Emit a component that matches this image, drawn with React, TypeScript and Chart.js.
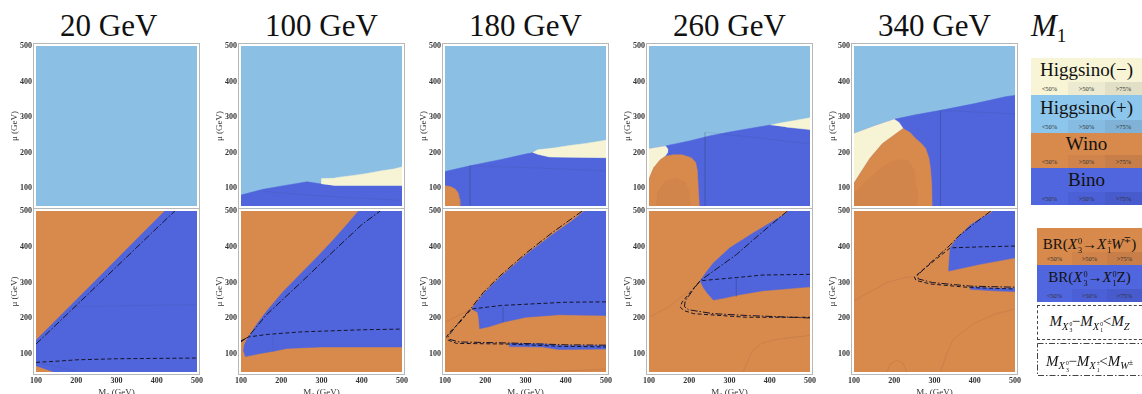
import React, { useEffect, useRef } from 'react';
import { Chart, registerables } from 'chart.js';

Chart.register(...registerables);

type P = [number, number];

// ---------- labels ----------
const massLabels = ['20 GeV', '100 GeV', '180 GeV', '260 GeV', '340 GeV'];
const tickValues = [100, 200, 300, 400, 500];
const legendBands = ['Higgsino(\u2212)', 'Higgsino(+)', 'Wino', 'Bino'];
const shareLabels = ['<50%', '>50%', '>75%'];

// ---------- data (M2, mu) in GeV ----------
const fullDomain: P[] = [[100, 50], [100, 500], [500, 500], [500, 50], [100, 50]];

// top row: lightest-neutralino composition
const t100Bino: P[] = [[100, 50], [100, 81], [155, 97], [210, 108], [264, 118], [300, 112], [330, 108], [500, 108], [500, 50]];
const t100HiggsMinus: P[] = [[300, 112], [300, 127], [330, 128], [345, 131], [380, 136], [410, 141], [450, 149], [480, 154], [500, 160], [500, 108], [330, 108]];
const t100Contour: P[] = [[156, 91], [300, 78], [496, 66]];

const t180Bino: P[] = [[100, 50], [100, 147], [162, 163], [240, 181], [300, 196], [318, 200], [328, 196], [360, 188], [500, 186], [500, 50]];
const t180HiggsMinus: P[] = [[318, 200], [330, 208], [370, 213], [410, 220], [450, 226], [500, 235], [500, 186], [360, 188], [328, 196]];
const t180Wino: P[] = [[100, 50], [100, 107], [115, 104], [126, 97], [133, 86], [136, 70], [137, 50]];
const t180Contour1: P[] = [[162, 163], [162, 50]];
const t180Contour2: P[] = [[162, 163], [330, 157], [500, 149]];

const t260Bino: P[] = [[100, 50], [100, 211], [141, 219], [200, 233], [250, 247], [300, 258], [350, 268], [402, 278], [440, 272], [500, 265], [500, 50]];
const t260HiggsMinusR: P[] = [[402, 278], [430, 284], [460, 290], [500, 298], [500, 265], [440, 272]];
const t260HiggsMinusL: P[] = [[100, 126], [100, 211], [141, 219], [147, 210], [146, 200], [140, 190], [128, 180], [112, 158]];
const t260Wino: P[] = [[100, 50], [100, 126], [112, 158], [128, 180], [141, 190], [160, 194], [182, 194], [205, 186], [216, 172], [220, 150], [222, 110], [225, 50]];
const t260WinoInner: P[] = [[118, 50], [122, 90], [140, 120], [165, 128], [190, 118], [200, 90], [203, 50]];
const t260Contour1: P[] = [[239, 258], [239, 50]];
const t260Contour2: P[] = [[239, 258], [500, 225]];

const t340Bino: P[] = [[100, 50], [100, 254], [150, 275], [200, 294], [250, 306], [315, 319], [400, 338], [479, 358], [500, 361], [500, 50]];
const t340HiggsMinus: P[] = [[100, 114], [100, 254], [150, 275], [200, 294], [212, 285], [222, 268], [200, 250], [171, 226], [140, 185], [120, 150]];
const t340Wino: P[] = [[100, 50], [100, 114], [120, 150], [140, 185], [171, 226], [200, 250], [222, 268], [240, 256], [253, 240], [268, 225], [278, 212], [286, 185], [290, 156], [293, 110], [294, 50]];
const t340WinoInner: P[] = [[100, 50], [100, 85], [130, 120], [170, 160], [205, 180], [235, 178], [250, 150], [255, 100], [256, 50]];
const t340Contour1: P[] = [[315, 319], [315, 50]];
const t340Contour2: P[] = [[315, 319], [500, 309]];

// bottom row: X3 decay branching ratios and thresholds
const b20Bino: P[] = [[100, 67], [100, 139], [180, 229], [260, 319], [340, 410], [420, 500], [500, 500], [500, 50], [143, 50]];
const b20Contour1: P[] = [[198, 232], [350, 236], [500, 238]];
const b20Contour2: P[] = [[100, 77], [200, 53]];
const b20W: P[] = [[100, 128], [200, 236], [300, 344], [400, 452], [445, 500]];
const b20Z: P[] = [[100, 77], [150, 80], [200, 84], [300, 87], [400, 88], [500, 89]];

const b100Bino: P[] = [[119, 148], [140, 185], [165, 222], [205, 275], [247, 323], [290, 372], [330, 420], [360, 458], [392, 500], [500, 500], [500, 120], [300, 120], [214, 116], [181, 108], [148, 102], [111, 93], [106, 110], [108, 125], [113, 138], [119, 148]];
const b100Contour: P[] = [[177, 150], [181, 108]];
const b100W: P[] = [[100, 134], [119, 150], [165, 212], [247, 298], [330, 388], [400, 462], [446, 500]];
const b100Z: P[] = [[100, 137], [119, 148], [165, 155], [247, 162], [400, 168], [500, 170]];

const b180Bino: P[] = [[166, 226], [195, 268], [236, 314], [301, 378], [367, 434], [415, 472], [446, 500], [500, 500], [500, 208], [383, 210], [301, 203], [244, 189], [211, 177], [186, 171], [184, 200], [181, 217], [166, 226]];
const b180Strip: P[] = [[260, 130], [342, 129], [383, 124], [500, 124], [500, 114], [383, 113], [342, 120], [260, 121], [260, 130]];
const b180Z: P[] = [[500, 246], [400, 245], [240, 236], [166, 226], [150, 207], [137, 189], [112, 162], [104, 148], [108, 139], [129, 130], [260, 128], [383, 122], [500, 120]];
const b180W: P[] = [[441, 500], [367, 440], [301, 382], [236, 318], [195, 272], [166, 230], [140, 196], [116, 162], [108, 150], [112, 141], [135, 134], [260, 131], [400, 126], [500, 125]];
const b180Contour1: P[] = [[100, 189], [140, 212], [166, 226]];
const b180Contour2: P[] = [[300, 50], [400, 53], [500, 58]];
const b180Contour3: P[] = [[244, 232], [244, 189]];

const b260Bino: P[] = [[227, 305], [243, 330], [260, 355], [301, 397], [358, 438], [407, 471], [440, 493], [446, 500], [500, 500], [500, 288], [383, 277], [325, 266], [293, 258], [260, 251], [245, 270], [235, 286], [227, 305]];
const b260Z: P[] = [[500, 323], [383, 321], [317, 314], [227, 305], [202, 272], [182, 245], [178, 231], [186, 222], [211, 213], [342, 203], [500, 203]];
const b260W: P[] = [[444, 500], [374, 434], [317, 378], [260, 332], [227, 305], [211, 282], [190, 249], [188, 233], [198, 224], [260, 213], [342, 208], [500, 201]];
const b260Contour1: P[] = [[100, 203], [150, 232], [178, 258], [210, 285], [227, 305]];
const b260Contour2: P[] = [[334, 50], [345, 80], [358, 111], [380, 130], [407, 139], [450, 146], [500, 152]];
const b260Contour3: P[] = [[317, 313], [317, 260]];

const b340Bino: P[] = [[339, 397], [356, 424], [389, 461], [422, 484], [438, 493], [445, 500], [500, 500], [500, 369], [413, 351], [335, 332], [337, 370], [339, 397]];
const b340Strip: P[] = [[389, 288], [446, 284], [500, 284], [500, 275], [446, 277], [389, 281], [389, 288]];
const b340Z: P[] = [[500, 402], [420, 400], [339, 397], [300, 362], [268, 332], [250, 316], [254, 306], [290, 296], [389, 286], [500, 282]];
const b340W: P[] = [[440, 500], [400, 466], [360, 430], [339, 405], [305, 370], [275, 340], [258, 320], [260, 310], [295, 300], [389, 290], [500, 287]];
const b340Contour1: P[] = [[100, 249], [182, 300], [230, 315], [250, 316]];
const b340Contour2: P[] = [[315, 50], [330, 100], [345, 139], [397, 185], [450, 212], [500, 226]];
const b340Bump: P[] = [[182, 50], [190, 72], [206, 83], [222, 75], [231, 50]];

// ---------- styles ----------
const HPLUS = '#8bbfe3';
const HMINUS = '#f6f4d4';
const WINO = '#d8894c';
const WINO2 = '#d2854a';
const BINO = '#5065dc';
const SERIF = '"Liberation Serif", "DejaVu Serif", serif';

type Kind = 'fill' | 'dash' | 'dashdot' | 'faint';
type Layer = { pts: P[]; kind: Kind; color?: string };

const F = (pts: P[], color: string): Layer => ({ pts, kind: 'fill', color });
const faint = (pts: P[]): Layer => ({ pts, kind: 'faint' });
const dash = (pts: P[]): Layer => ({ pts, kind: 'dash' });
const dashdot = (pts: P[]): Layer => ({ pts, kind: 'dashdot' });

const topPanels: Layer[][] = [
  [F(fullDomain, HPLUS)],
  [F(fullDomain, HPLUS), F(t100Bino, BINO), F(t100HiggsMinus, HMINUS), faint(t100Contour)],
  [F(fullDomain, HPLUS), F(t180Bino, BINO), F(t180HiggsMinus, HMINUS), F(t180Wino, WINO), faint(t180Contour1), faint(t180Contour2)],
  [F(fullDomain, HPLUS), F(t260Bino, BINO), F(t260HiggsMinusR, HMINUS), F(t260HiggsMinusL, HMINUS), F(t260Wino, WINO), F(t260WinoInner, WINO2), faint(t260Contour1), faint(t260Contour2)],
  [F(fullDomain, HPLUS), F(t340Bino, BINO), F(t340HiggsMinus, HMINUS), F(t340Wino, WINO), F(t340WinoInner, WINO2), faint(t340Contour1), faint(t340Contour2)],
];

const bottomPanels: Layer[][] = [
  [F(fullDomain, WINO), F(b20Bino, BINO), faint(b20Contour1), faint(b20Contour2), dashdot(b20W), dash(b20Z)],
  [F(fullDomain, WINO), F(b100Bino, BINO), faint(b100Contour), dashdot(b100W), dash(b100Z)],
  [F(fullDomain, WINO), F(b180Bino, BINO), F(b180Strip, BINO), faint(b180Contour1), faint(b180Contour2), faint(b180Contour3), dashdot(b180W), dash(b180Z)],
  [F(fullDomain, WINO), F(b260Bino, BINO), faint(b260Contour1), faint(b260Contour2), faint(b260Contour3), dashdot(b260W), dash(b260Z)],
  [F(fullDomain, WINO), F(b340Bino, BINO), F(b340Strip, BINO), faint(b340Contour1), faint(b340Contour2), faint(b340Bump), dashdot(b340W), dash(b340Z)],
];

// layout
const COL_LEFT = [36, 241, 445, 649, 854];
const PLOT_W = 161;
const Y_AXIS_W = 34;
const PAD_T = 12;
const PAD_R = 12;

const framePlugin = {
  id: 'frame',
  afterDraw(chart: any) {
    const { ctx, chartArea: a } = chart;
    ctx.save();
    ctx.strokeStyle = '#b8b8b8';
    ctx.lineWidth = 1;
    ctx.strokeRect(Math.round(a.left) - 2.5, Math.round(a.top) - 2.5, a.right - a.left + 5, a.bottom - a.top + 5);
    ctx.restore();
  },
};

function buildDatasets(layers: Layer[]) {
  const n = layers.length;
  return layers.map((l, i) => {
    const data = l.pts.map(([x, y]) => ({ x, y }));
    const base: any = { data, pointRadius: 0, order: n - i, tension: 0 };
    if (l.kind === 'fill') {
      return { ...base, fill: 'shape', backgroundColor: l.color, borderColor: l.color, borderWidth: 0.5 };
    }
    if (l.kind === 'faint') {
      return { ...base, fill: false, borderColor: 'rgba(40,40,70,0.13)', borderWidth: 0.7 };
    }
    if (l.kind === 'dash') {
      return { ...base, fill: false, borderColor: '#15152a', borderWidth: 1, borderDash: [4, 2.5] };
    }
    return { ...base, fill: false, borderColor: '#15152a', borderWidth: 1, borderDash: [7, 2, 1.5, 2] };
  });
}

function Panel({ layers, left, top, plotH, bottomRow }: { layers: Layer[]; left: number; top: number; plotH: number; bottomRow: boolean }) {
  const ref = useRef<HTMLCanvasElement>(null);
  const xAxisH = bottomRow ? 26 : 14;
  const W = Y_AXIS_W + PLOT_W + PAD_R;
  const H = PAD_T + plotH + xAxisH;
  useEffect(() => {
    const tickFont = { family: SERIF, size: 8, weight: 'bold' as const };
    const chart = new Chart(ref.current as HTMLCanvasElement, {
      type: 'line',
      data: { datasets: buildDatasets(layers) as any },
      options: {
        animation: false,
        responsive: false,
        devicePixelRatio: 1,
        events: [],
        layout: { padding: { top: PAD_T, right: PAD_R, left: 0, bottom: 0 } },
        plugins: { legend: { display: false }, tooltip: { enabled: false } },
        scales: {
          x: {
            type: 'linear', min: 100, max: 500,
            afterBuildTicks: (s: any) => { s.ticks = tickValues.map((v) => ({ value: v })); },
            ticks: { display: bottomRow, font: tickFont, color: '#333', padding: 4, maxRotation: 0, autoSkip: false },
            grid: { display: false, drawTicks: false },
            border: { display: false },
            title: { display: bottomRow, text: 'M\u2082 (GeV)', font: { family: SERIF, size: 9 }, color: '#333', padding: 0 },
            afterFit: (s: any) => { s.height = xAxisH; },
          },
          y: {
            type: 'linear', min: 50, max: 500,
            afterBuildTicks: (s: any) => { s.ticks = tickValues.map((v) => ({ value: v })); },
            ticks: { font: tickFont, color: '#333', padding: 4, autoSkip: false },
            grid: { display: false, drawTicks: false },
            border: { display: false },
            title: { display: true, text: '\u03bc (GeV)', font: { family: SERIF, size: 9 }, color: '#333', padding: { top: 7, bottom: 0 } },
            afterFit: (s: any) => { s.width = Y_AXIS_W; },
          },
        },
      } as any,
      plugins: [framePlugin],
    });
    return () => chart.destroy();
  }, []);
  return (
    <canvas
      ref={ref}
      width={W}
      height={H}
      style={{ position: 'absolute', left, top, width: W, height: H }}
    />
  );
}

const Stack = ({ sup, sub }: { sup: string; sub: string }) => (
  <span style={{ position: 'relative', display: 'inline-block', width: '0.6em', height: '1em', fontSize: '0.55em', fontStyle: 'normal' }}>
    <span style={{ position: 'absolute', left: 1, top: '-0.35em', lineHeight: 1 }}>{sup}</span>
    <span style={{ position: 'absolute', left: 1, top: '0.75em', lineHeight: 1 }}>{sub}</span>
  </span>
);

const bandShades = [
  ['#f7f5d6', '#ecead0', '#e1dfc6'],
  ['#8dc6ec', '#86bce2', '#7fb2d6'],
  ['#d8894c', '#d0834a', '#c87e48'],
  ['#5066de', '#4b60d6', '#475bcd'],
];
const brShades = [
  ['#d8894c', '#d0834a', '#c87e48'],
  ['#5066de', '#4b60d6', '#475bcd'],
];

function ShareRow({ shades, cellW }: { shades: string[]; cellW: number }) {
  return (
    <div style={{ display: 'flex', height: 13 }}>
      {shareLabels.map((s, i) => (
        <div key={s} style={{ width: cellW, background: shades[i], fontSize: 6.5, lineHeight: '13px', textAlign: 'center', color: '#333', fontFamily: SERIF }}>{s}</div>
      ))}
    </div>
  );
}

const Sub = ({ children }: { children: React.ReactNode }) => (
  <span style={{ fontSize: '0.7em', position: 'relative', top: '0.35em' }}>{children}</span>
);

export default function App() {
  const bandTops = [58, 95, 133, 168];
  const bandH = [37, 38, 35, 37];
  return (
    <div style={{ position: 'absolute', left: 0, top: 0, width: 1142, height: 394, overflow: 'hidden', background: '#fff', fontFamily: SERIF }}>
      {massLabels.map((t, i) => (
        <div key={t} style={{ position: 'absolute', left: COL_LEFT[i] + 24, top: 10, fontSize: 31, lineHeight: '31px', whiteSpace: 'nowrap', color: '#111' }}>{t}</div>
      ))}
      <div style={{ position: 'absolute', left: 1031, top: 10, fontSize: 31, lineHeight: '31px', color: '#111', whiteSpace: 'nowrap' }}>
        <i>M</i><span style={{ fontSize: '0.62em', position: 'relative', top: '0.3em' }}>1</span>
      </div>
      {topPanels.map((layers, i) => (
        <Panel key={'t' + i} layers={layers} left={COL_LEFT[i] - Y_AXIS_W} top={46 - PAD_T} plotH={160} bottomRow={false} />
      ))}
      {bottomPanels.map((layers, i) => (
        <Panel key={'b' + i} layers={layers} left={COL_LEFT[i] - Y_AXIS_W} top={211 - PAD_T} plotH={161} bottomRow={true} />
      ))}
      {legendBands.map((b, i) => (
        <div key={b} style={{ position: 'absolute', left: 1031, top: bandTops[i], width: 111, height: bandH[i], background: bandShades[i][0] }}>
          <div style={{ height: bandH[i] - 13, fontSize: 19, lineHeight: bandH[i] - 13 + 'px', textAlign: 'center', color: '#111', whiteSpace: 'nowrap' }}>{b}</div>
          <ShareRow shades={bandShades[i]} cellW={37} />
        </div>
      ))}
      <div style={{ position: 'absolute', left: 1037, top: 228, width: 105, height: 37, background: brShades[0][0] }}>
        <div style={{ height: 24, fontSize: 15, lineHeight: '24px', textAlign: 'center', color: '#111', whiteSpace: 'nowrap' }}>
          BR(<i>X</i><Stack sup="0" sub="3" />{'\u2192'}<i>X</i><Stack sup={'\u00b1'} sub="1" /><i>W</i><sup style={{ fontSize: '0.6em' }}>{'\u2213'}</sup>)
        </div>
        <ShareRow shades={brShades[0]} cellW={35} />
      </div>
      <div style={{ position: 'absolute', left: 1037, top: 265, width: 105, height: 37, background: brShades[1][0] }}>
        <div style={{ height: 24, fontSize: 15, lineHeight: '24px', textAlign: 'center', color: '#111', whiteSpace: 'nowrap' }}>
          BR(<i>X</i><Stack sup="0" sub="3" />{'\u2192'}<i>X</i><Stack sup="0" sub="1" />Z)
        </div>
        <ShareRow shades={brShades[1]} cellW={35} />
      </div>
      <div style={{ position: 'absolute', left: 1037, top: 305, width: 110, height: 35, border: '1px dashed #444', boxSizing: 'border-box', background: '#fff' }}>
        <div style={{ fontSize: 15, lineHeight: '31px', textAlign: 'center', color: '#111', whiteSpace: 'nowrap', paddingRight: 5 }}>
          <i>M</i><Sub><i>X</i><Stack sup="0" sub="3" /></Sub>{'\u2212'}<i>M</i><Sub><i>X</i><Stack sup="0" sub="1" /></Sub>{'<'}<i>M</i><Sub><i>Z</i></Sub>
        </div>
      </div>
      <svg style={{ position: 'absolute', left: 1037, top: 343 }} width={110} height={33}>
        <rect x={0.5} y={0.5} width={108} height={32} fill="#fff" stroke="#444" strokeWidth={1} strokeDasharray="6 2 1.5 2" />
      </svg>
      <div style={{ position: 'absolute', left: 1037, top: 343, width: 105, height: 33, fontSize: 15, lineHeight: '31px', textAlign: 'center', color: '#111', whiteSpace: 'nowrap' }}>
        <i>M</i><Sub><i>X</i><Stack sup="0" sub="3" /></Sub>{'\u2212'}<i>M</i><Sub><i>X</i><Stack sup={'\u00b1'} sub="1" /></Sub>{'<'}<i>M</i><Sub><i>W</i><sup style={{ fontSize: '0.7em' }}>{'\u00b1'}</sup></Sub>
      </div>
    </div>
  );
}
